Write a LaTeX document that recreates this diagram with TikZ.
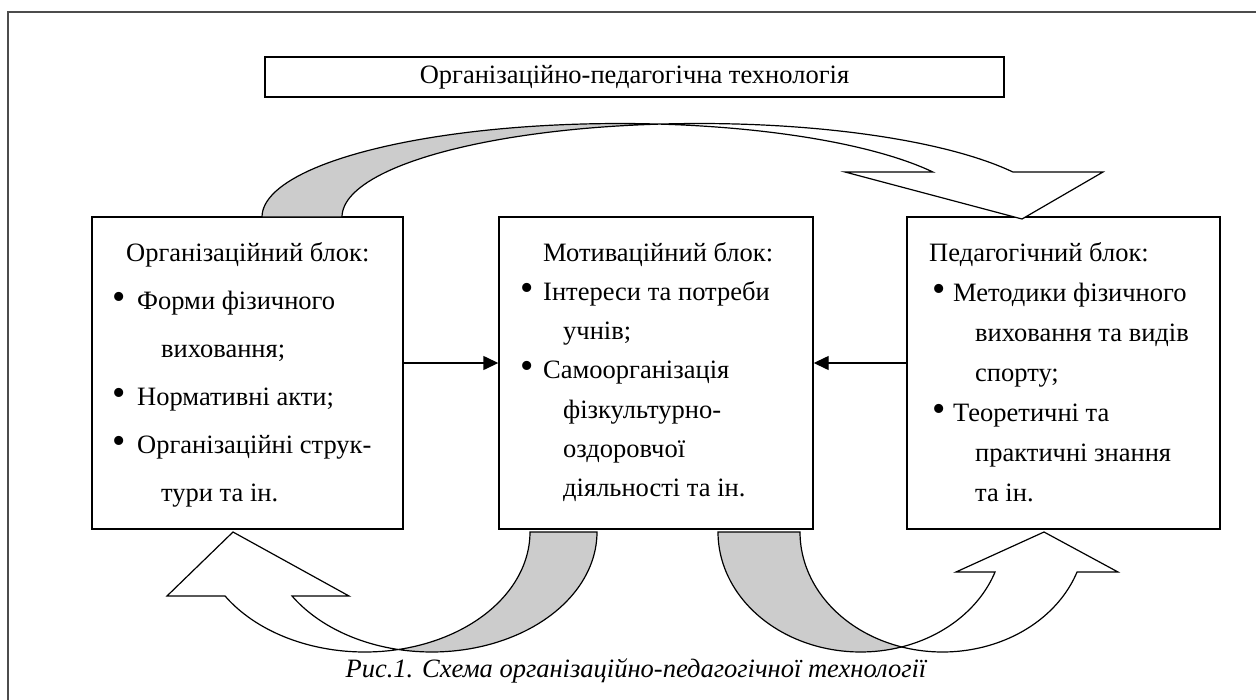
\documentclass[tikz,border=0pt]{standalone}
\usepackage{fontspec}
\setmainfont{Liberation Serif}
\usetikzlibrary{arrows.meta}
\definecolor{shade}{gray}{0.8}
\definecolor{framegray}{gray}{0.3}
\begin{document}
\begin{tikzpicture}[x=1pt,y=-1pt,
  box/.style={draw, line width=1.4pt, inner sep=0pt},
  txt/.style={anchor=base west, inner sep=0pt, font=\fontsize{26.5}{32}\selectfont},
  bul/.style={anchor=base, inner sep=0pt, font=\fontsize{38}{44}\selectfont},
  band/.style={draw, line width=1.2pt, line join=miter},
  link/.style={line width=1.4pt, -{Triangle[length=15pt,width=14pt]}}
]
\useasboundingbox (0,0) rectangle (1256,699);
% outer frame (top and left edges only)
\draw[framegray, line width=2pt] (8,705) -- (8,12) -- (1262,12);

% title
\node[box, minimum width=739pt, minimum height=40pt, font=\fontsize{26.5}{32}\selectfont] (title) at (634.5,77) {Організаційно-педагогічна технологія};

% blocks
\node[box, minimum width=311pt, minimum height=312pt] (org) at (247.5,373) {};
\node[box, minimum width=314pt, minimum height=312pt] (mot) at (656,373) {};
\node[box, minimum width=313pt, minimum height=312pt] (ped) at (1063.5,373) {};

% left block text
\node[txt] (o0) at (126,261) {Організаційний блок:};
\node[bul] (ob1) at (119,309) {•};
\node[txt] (o1) at (137,309) {Форми фізичного};
\node[txt] (o2) at (161,357) {виховання;};
\node[bul] (ob2) at (119,405) {•};
\node[txt] (o3) at (137,405) {Нормативні акти;};
\node[bul] (ob3) at (119,453) {•};
\node[txt] (o4) at (137,453) {Організаційні струк-};
\node[txt] (o5) at (161,501) {тури та ін.};

% middle block text
\node[txt] (m0) at (543,261) {Мотиваційний блок:};
\node[bul] (mb1) at (527,300.3) {•};
\node[txt] (m1) at (543,300.3) {Інтереси та потреби};
\node[txt] (m2) at (563,339.6) {учнів;};
\node[bul] (mb2) at (527,378.9) {•};
\node[txt] (m3) at (543,378.9) {Самоорганізація};
\node[txt] (m4) at (563,418.2) {фізкультурно-};
\node[txt] (m5) at (563,457.5) {оздоровчої};
\node[txt] (m6) at (563,496.8) {діяльності та ін.};

% right block text
\node[txt] (p0) at (929,261) {Педагогічний блок:};
\node[bul] (pb1) at (939,301) {•};
\node[txt] (p1) at (953,301) {Методики фізичного};
\node[txt] (p2) at (975,341) {виховання та видів};
\node[txt] (p3) at (975,381) {спорту;};
\node[bul] (pb2) at (939,421) {•};
\node[txt] (p4) at (953,421) {Теоретичні та};
\node[txt] (p5) at (975,461) {практичні знання};
\node[txt] (p6) at (975,501) {та ін.};

% straight connectors
\draw[link] ([yshift=10pt]org.east) -- ([yshift=10pt]mot.west);
\draw[link] ([yshift=10pt]ped.west) -- ([yshift=10pt]mot.east);

% top curved arrow (organisational -> pedagogical)
\draw[band, fill=shade]
  plot[domain=180:83.58, samples=50] ({619.5+357.5*cos(\x)},{217-93.5*sin(\x)})
  -- plot[domain=96.42:180, samples=50] ({699.5+357.5*cos(\x)},{217-93.5*sin(\x)})
  -- cycle;
\draw[band, fill=white]
  plot[domain=96.42:28.77, samples=50] ({699.5+357.5*cos(\x)},{217-93.5*sin(\x)})
  -- (1103,172) -- (1022,219) -- (845,172)
  -- plot[domain=28.77:83.58, samples=50] ({619.5+357.5*cos(\x)},{217-93.5*sin(\x)})
  -- cycle;

% bottom-left curved arrow (motivational -> organisational)
\draw[band, fill=shade]
  plot[domain=0:101.7, samples=50] ({431.8+165.2*cos(\x)},{532+120*sin(\x)})
  -- plot[domain=78.3:0, samples=50] ({364.8+165.2*cos(\x)},{532+120*sin(\x)})
  -- cycle;
\draw[band, fill=white]
  plot[domain=78.3:147.77, samples=50] ({364.8+165.2*cos(\x)},{532+120*sin(\x)})
  -- (167,596) -- (233,532) -- (349,596)
  -- plot[domain=147.77:101.7, samples=50] ({431.8+165.2*cos(\x)},{532+120*sin(\x)})
  -- cycle;

% bottom-right curved arrow (motivational -> pedagogical)
\draw[band, fill=shade]
  plot[domain=180:73.3, samples=50] ({860.6+142.6*cos(\x)},{532+120*sin(\x)})
  -- plot[domain=106.7:180, samples=50] ({942.6+142.6*cos(\x)},{532+120*sin(\x)})
  -- cycle;
\draw[band, fill=white]
  plot[domain=106.7:19.47, samples=50] ({942.6+142.6*cos(\x)},{532+120*sin(\x)})
  -- (1118,572) -- (1044,532) -- (956,572)
  -- plot[domain=19.47:73.3, samples=50] ({860.6+142.6*cos(\x)},{532+120*sin(\x)})
  -- cycle;

% caption
\node[inner sep=0pt, font=\fontsize{26.5}{32}\selectfont\itshape] (cap) at (636,671) {Рис.1. Схема організаційно-педагогічної технології};
\end{tikzpicture}
\end{document}
